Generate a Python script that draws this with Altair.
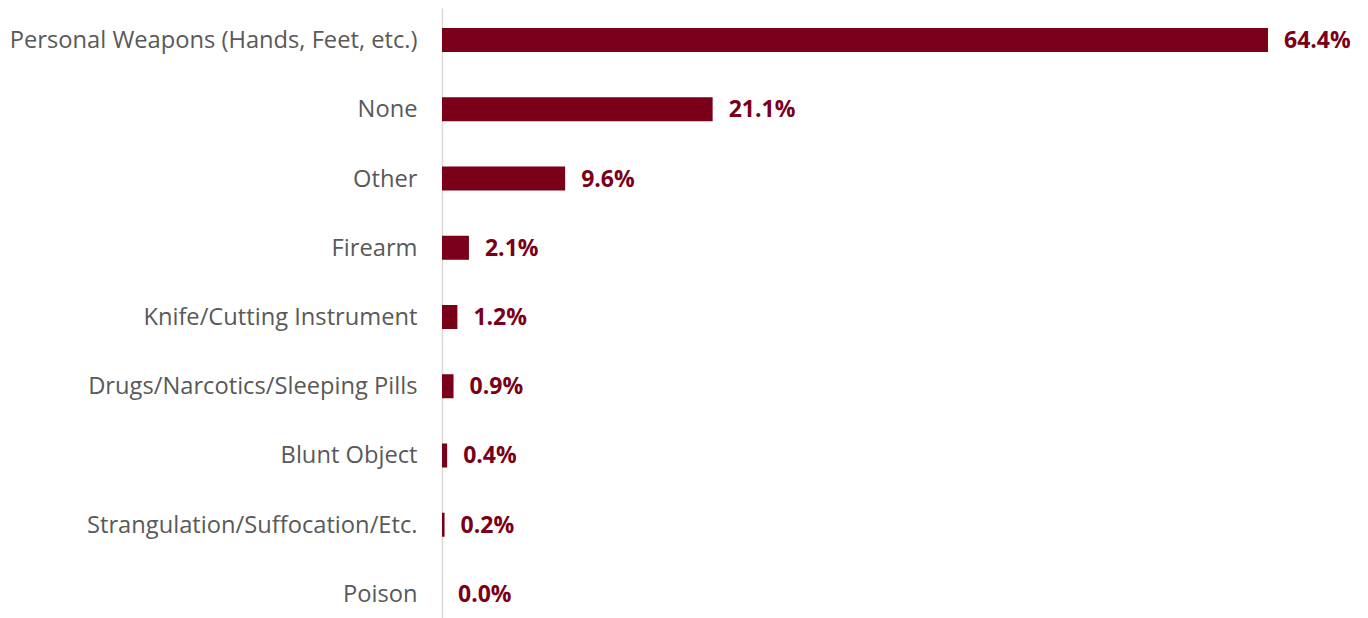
import altair as alt
import pandas as pd

categories = [
    "Personal Weapons (Hands, Feet, etc.)",
    "None",
    "Other",
    "Firearm",
    "Knife/Cutting Instrument",
    "Drugs/Narcotics/Sleeping Pills",
    "Blunt Object",
    "Strangulation/Suffocation/Etc.",
    "Poison",
]
values = [64.4, 21.1, 9.6, 2.1, 1.2, 0.9, 0.4, 0.2, 0.0]
labels = [f"{v:.1f}%" for v in values]

df = pd.DataFrame({"category": categories, "value": values, "label": labels})

BAR = "#7A0019"
FONT = "Open Sans"

y = alt.Y(
    "category:N",
    sort=categories,
    title=None,
    scale=alt.Scale(paddingInner=0.653, paddingOuter=0.289),
    axis=alt.Axis(
        domain=True,
        domainColor="#d9d9d9",
        domainWidth=1.5,
        ticks=False,
        labelFont=FONT,
        labelFontSize=23.7,
        labelColor="#595959",
        labelPadding=25,
        labelLimit=600,
        labelOffset=1,
    ),
)
x = alt.X("value:Q", title=None, axis=None, scale=alt.Scale(domain=[0, 64.4], nice=False, zero=True))

bars = alt.Chart(df).mark_bar(color=BAR).encode(x=x, y=y)
text = alt.Chart(df).mark_text(
    align="left", baseline="middle", dx=16, dy=1, font=FONT, fontSize=23, fontWeight="bold", color=BAR
).encode(x=x, y=alt.Y("category:N", sort=categories), text="label:N")

chart = (
    alt.layer(bars, text)
    .properties(
        width=826,
        height=618,
        autosize="none",
        padding={"left": 434, "top": 0, "right": 90, "bottom": 0},
    )
    .configure_view(stroke=None)
)

chart.save("out.html", embed_options={"renderer": "svg", "actions": False})
